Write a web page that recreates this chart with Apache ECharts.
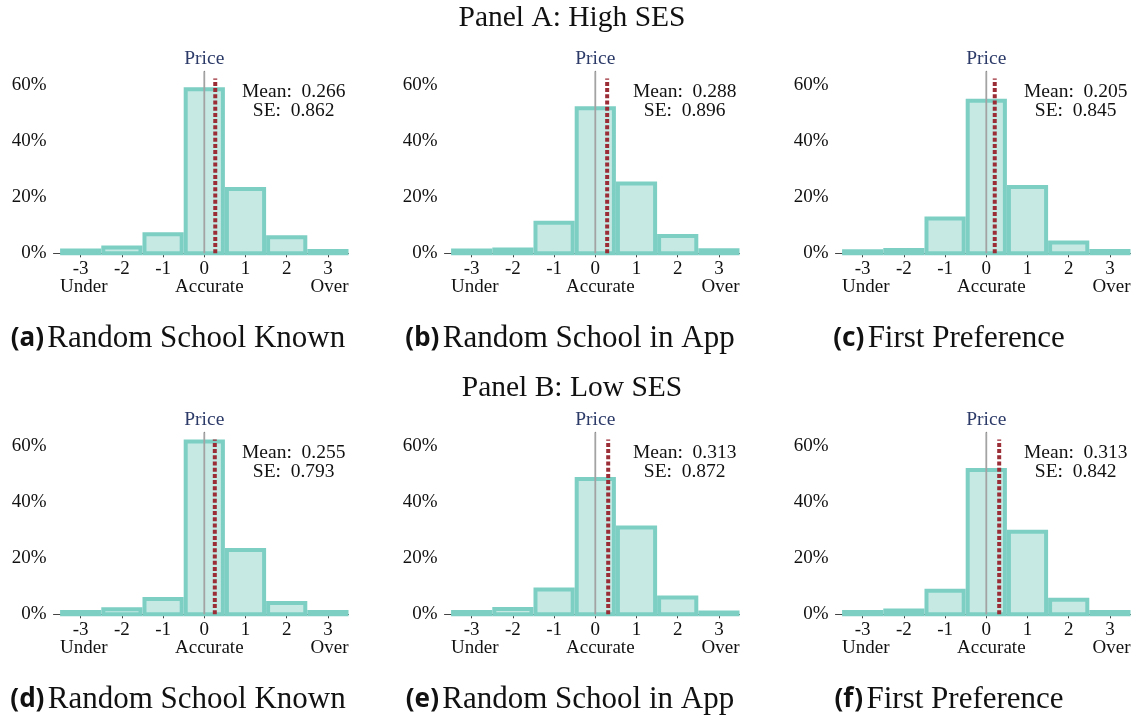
<!DOCTYPE html>
<html>
<head>
<meta charset="utf-8">
<script src="https://cdn.jsdelivr.net/npm/echarts@6/dist/echarts.min.js"></script>
<style>
  html, body { margin: 0; padding: 0; background: #fff; }
  #chart { width: 1136px; height: 719px; }
</style>
</head>
<body>
<div id="chart"></div>
<script>
// Perception error bins (price guess minus actual price, in steps)
const bins = [-3, -2, -1, 0, 1, 2, 3];

// Share of respondents in each bin (%), one array per sub-figure
const shareA = [1.0, 2.1, 6.8, 58.6, 23.0, 5.7, 0.8];
const shareB = [1.0, 1.4, 10.9, 51.8, 24.9, 6.2, 1.1];
const shareC = [0.7, 1.2, 12.4, 54.5, 23.7, 3.9, 0.8];
const shareD = [0.8, 1.8, 5.5, 61.7, 23.0, 4.0, 0.8];
const shareE = [0.8, 1.9, 8.9, 48.3, 31.0, 6.0, 0.6];
const shareF = [0.8, 1.4, 8.4, 51.5, 29.5, 5.2, 0.8];

// Summary statistics per sub-figure
const means = [0.266, 0.288, 0.205, 0.255, 0.313, 0.313];
const ses = [0.862, 0.896, 0.845, 0.793, 0.872, 0.842];

// Text
const panelLetters = ['(a)', '(b)', '(c)', '(d)', '(e)', '(f)'];
const panelNames = ['Random School Known', 'Random School in App', 'First Preference',
                    'Random School Known', 'Random School in App', 'First Preference'];
const rowTitles = ['Panel A: High SES', 'Panel B: Low SES'];
const yTicks = [0, 20, 40, 60];
const sideLabels = ['Under', 'Accurate', 'Over'];
const refLabel = 'Price';

const shares = [shareA, shareB, shareC, shareD, shareE, shareF];

// Axis ranges
const X_MIN = -3.66, X_MAX = 3.5;
const Y_MAX = 65;
const MEAN_LINE_TOP = 62.4;

// Layout
const GRID_LEFT = [53.5, 444.5, 835.5];
const GRID_W = 295;
const GRID_TOP = [71.3, 432.3];
const GRID_H = 182;
const CAPTION_X = [178, 570, 949];
const CAPTION_Y = [339, 700];
const TITLE_X = 572;
const TITLE_Y = [18, 388];

const SERIF = '"Liberation Serif", "DejaVu Serif", serif';
const TEAL = '#7dcfc4';
const TEAL_FILL = '#c6e9e4';
const RED = '#9b2d37';
const GREY = '#a3a3a3';
const NAVY = '#2c3a68';
const AXIS = '#444';

const chart = echarts.init(document.getElementById('chart'), null, { renderer: 'canvas' });

const grids = [], xAxes = [], yAxes = [], series = [];
for (let i = 0; i < 6; i++) {
  const row = Math.floor(i / 3), col = i % 3;
  grids.push({ left: GRID_LEFT[col], top: GRID_TOP[row], width: GRID_W, height: GRID_H, containLabel: false });
  xAxes.push({
    gridIndex: i, type: 'value', min: X_MIN, max: X_MAX,
    axisLine: { show: true, lineStyle: { color: AXIS, width: 1 } },
    axisTick: { show: true, customValues: bins, length: 4, lineStyle: { color: AXIS } },
    axisLabel: { show: true, customValues: bins, fontFamily: SERIF, fontSize: 19, color: '#111', margin: 6 },
    splitLine: { show: false }
  });
  yAxes.push({
    gridIndex: i, type: 'value', min: 0, max: Y_MAX,
    axisLine: { show: true, lineStyle: { color: AXIS, width: 1 } },
    axisTick: { show: false },
    axisLabel: { show: true, customValues: yTicks, formatter: '{value}%', fontFamily: SERIF, fontSize: 19, color: '#111', margin: 7 },
    splitLine: { show: false }
  });
  // Histogram bars: each bin spans one unit, outline drawn inside the bin
  series.push({
    type: 'custom', xAxisIndex: i, yAxisIndex: i, z: 2,
    data: bins.map((b, k) => [b, shares[i][k]]),
    renderItem: (params, api) => {
      const x = api.value(0), v = api.value(1);
      const p0 = api.coord([x - 0.5, v]);
      const p1 = api.coord([x + 0.5, 0]);
      const inset = 2;
      return {
        type: 'rect',
        shape: { x: p0[0] + inset, y: p0[1], width: p1[0] - p0[0] - 2 * inset, height: p1[1] - p0[1] },
        style: { fill: TEAL_FILL, stroke: TEAL, lineWidth: 4 }
      };
    }
  });
  // Reference line at the actual price
  series.push({
    type: 'line', xAxisIndex: i, yAxisIndex: i, z: 3, symbol: 'none', silent: true,
    data: [[0, 0], [0, Y_MAX]],
    lineStyle: { color: GREY, width: 1.8 }
  });
  // Mean perception error
  series.push({
    type: 'line', xAxisIndex: i, yAxisIndex: i, z: 4, symbol: 'none', silent: true,
    data: [[means[i], 0], [means[i], MEAN_LINE_TOP]],
    lineStyle: { color: RED, width: 4, type: [4, 2.2] }
  });
}

chart.setOption({
  animation: false,
  backgroundColor: '#fff',
  grid: grids, xAxis: xAxes, yAxis: yAxes, series: series
});

// Annotations placed from the axes' own coordinate conversion
const graphics = [];
const txt = (x, y, text, opts) => ({
  type: 'text', x: x, y: y, silent: true,
  style: Object.assign({ text: text, fill: '#111', textAlign: 'center', textVerticalAlign: 'middle',
                         fontFamily: SERIF, fontSize: 19 }, opts || {})
});

for (let i = 0; i < 6; i++) {
  const row = Math.floor(i / 3), col = i % 3;
  const f = { gridIndex: i };
  const top0 = chart.convertToPixel(f, [0, Y_MAX]);
  const zero = chart.convertToPixel(f, [0, 0]);
  const left = chart.convertToPixel(f, [-3.5, 0]);
  const right = chart.convertToPixel(f, [3.5, 0]);
  const statPos = chart.convertToPixel(f, [2.17, Y_MAX]);

  graphics.push(txt(top0[0], top0[1] - 12.5, refLabel, { fill: NAVY, fontSize: 19.5 }));
  graphics.push(txt(statPos[0], statPos[1] + 21, 'Mean:  ' + means[i].toFixed(3), { fontSize: 19.5 }));
  graphics.push(txt(statPos[0], statPos[1] + 39.5, 'SE:  ' + ses[i].toFixed(3), { fontSize: 19.5 }));

  graphics.push(txt(left[0], zero[1] + 33.4, sideLabels[0], { textAlign: 'left' }));
  graphics.push(txt(zero[0] + 5, zero[1] + 33.4, sideLabels[1]));
  graphics.push(txt(right[0], zero[1] + 33.4, sideLabels[2], { textAlign: 'right' }));

  graphics.push({
    type: 'text', x: CAPTION_X[col], y: CAPTION_Y[row], silent: true,
    style: {
      text: '{b|' + panelLetters[i] + '} {r|' + panelNames[i] + '}',
      textAlign: 'center', textVerticalAlign: 'middle',
      rich: {
        b: { fontFamily: '"Noto Sans", "DejaVu Sans", sans-serif', fontWeight: 'bold', fontSize: 26, fill: '#111' },
        r: { fontFamily: SERIF, fontSize: 31, fill: '#111' }
      }
    }
  });
}
for (let r = 0; r < 2; r++) {
  graphics.push(txt(TITLE_X, TITLE_Y[r], rowTitles[r], { fontSize: 29.5 }));
}

chart.setOption({ graphic: graphics });
</script>
</body>
</html>
